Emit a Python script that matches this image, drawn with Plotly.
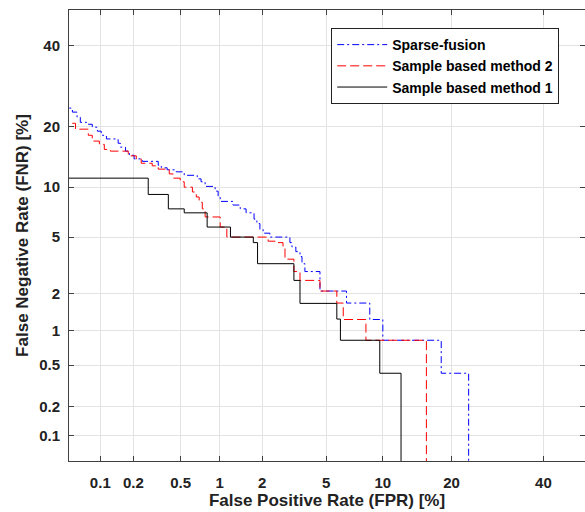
import plotly.graph_objects as go
from statistics import NormalDist

_nd = NormalDist()


def probit(values):
    return [_nd.inv_cdf(v / 100.0) for v in values]


# ---------------- data (percent) ----------------
TICK_VALUES = [0.1, 0.2, 0.5, 1, 2, 5, 10, 20, 40]
TICK_LABELS = ["0.1", "0.2", "0.5", "1", "2", "5", "10", "20", "40"]
X_LIMITS = [0.05, 50.5]
Y_LIMITS = [0.053, 50.3]

# staircase points: FNR drops to the given level at the given FPR
sparse_fpr = [0.04, 0.054, 0.060, 0.0645, 0.074, 0.084, 0.094, 0.102, 0.114, 0.146,
              0.153, 0.170, 0.184, 0.203, 0.239, 0.327, 0.347, 0.388, 0.461, 0.534,
              0.676, 0.724, 0.778, 0.926, 0.975, 1.01, 1.25, 1.41, 1.55, 1.76,
              1.84, 1.93, 2.03, 2.25, 3.03, 3.12, 3.30, 3.50, 3.60, 3.75,
              4.61, 6.50, 8.61, 10.0, 18.2, 23.2]
sparse_fnr = [24.0, 23.1, 22.0, 20.9, 20.5, 19.9, 19.1, 18.3, 17.6, 16.8,
              16.1, 15.4, 14.7, 14.1, 13.7, 13.1, 12.7, 12.4, 12.1, 11.6,
              11.1, 10.7, 10.1, 9.5, 8.8, 8.3, 7.9, 7.5, 7.1, 6.5,
              6.1, 5.6, 5.3, 5.0, 4.6, 4.3, 4.0, 3.7, 3.3, 2.9,
              2.08, 1.68, 1.24, 0.83, 0.42, 0.001]

m2_fpr = [0.04, 0.058, 0.077, 0.084, 0.098, 0.109, 0.124, 0.180, 0.212, 0.234,
          0.291, 0.327, 0.404, 0.434, 0.496, 0.534, 0.62, 0.665, 0.70, 0.74,
          0.778, 1.01, 1.13, 2.19, 2.51, 2.74, 2.82, 3.21, 3.50, 4.61,
          5.75, 6.24, 8.23, 15.8]
m2_fnr = [20.7, 19.5, 18.3, 17.2, 16.6, 15.7, 15.4, 14.6, 14.1, 13.4,
          13.0, 12.5, 11.8, 11.2, 10.7, 10.0, 9.4, 8.8, 8.2, 7.5,
          6.7, 5.8, 5.0, 4.7, 4.6, 4.3, 3.55, 2.9, 2.5, 2.08,
          1.68, 1.24, 0.83, 0.001]

m1_fpr = [0.04, 0.269, 0.397, 0.534, 0.806, 1.20, 1.74, 1.86, 3.21, 3.50,
          5.75, 6.02, 9.66, 12.2]
m1_fnr = [11.2, 9.1, 7.5, 7.1, 5.8, 5.0, 4.6, 3.3, 2.5, 1.67,
          1.25, 0.83, 0.42, 0.001]

SERIES_NAMES = ["Sparse-fusion", "Sample based method 2", "Sample based method 1"]

FONT = "Liberation Sans, Arial, Helvetica, sans-serif"

fig = go.Figure()
styles = [
    dict(color="#0000ff", dash="7px,3px,2px,3px"),
    dict(color="#ff0000", dash="9px,4px"),
    dict(color="#000000", dash="solid"),
]
for name, xs, ys, st in zip(SERIES_NAMES,
                            [sparse_fpr, m2_fpr, m1_fpr],
                            [sparse_fnr, m2_fnr, m1_fnr],
                            styles):
    fig.add_trace(go.Scatter(
        x=probit(xs), y=probit(ys), mode="lines", name=name,
        line=dict(color=st["color"], dash=st["dash"], width=1, shape="hv"),
    ))

axis_common = dict(
    tickmode="array",
    tickvals=probit(TICK_VALUES),
    ticktext=TICK_LABELS,
    showgrid=True, gridcolor="#e3e3e3", gridwidth=1,
    zeroline=False,
    showline=True, linecolor="#404040", linewidth=1,
    mirror="ticks", ticks="inside", ticklen=5, tickcolor="#404040",
    tickfont=dict(family=FONT, size=15, color="#222222", weight="bold"),
)

fig.update_layout(
    width=585, height=512,
    margin=dict(l=69, r=0, t=10, b=51),
    plot_bgcolor="white", paper_bgcolor="white",
    showlegend=True,
    legend=dict(
        x=0.95, y=0.96, xanchor="right", yanchor="top",
        bgcolor="white", bordercolor="#222222", borderwidth=1,
        font=dict(family=FONT, size=14, color="#000000", weight="bold"),
        itemwidth=50, tracegroupgap=0,
    ),
    xaxis=dict(
        range=probit(X_LIMITS),
        title=dict(text="False Positive Rate (FPR) [%]", standoff=4,
                   font=dict(family=FONT, size=17, color="#222222", weight="bold")),
        ticklabelstandoff=8,
        **axis_common,
    ),
    yaxis=dict(
        range=probit(Y_LIMITS),
        title=dict(text="False Negative Rate (FNR) [%]", standoff=6,
                   font=dict(family=FONT, size=17, color="#222222", weight="bold")),
        ticklabelstandoff=5,
        **axis_common,
    ),
)

fig.write_html(
    "out.html",
    config={"displayModeBar": False},
    post_script="document.body.style.margin='0px';document.body.style.overflow='hidden';",
)
